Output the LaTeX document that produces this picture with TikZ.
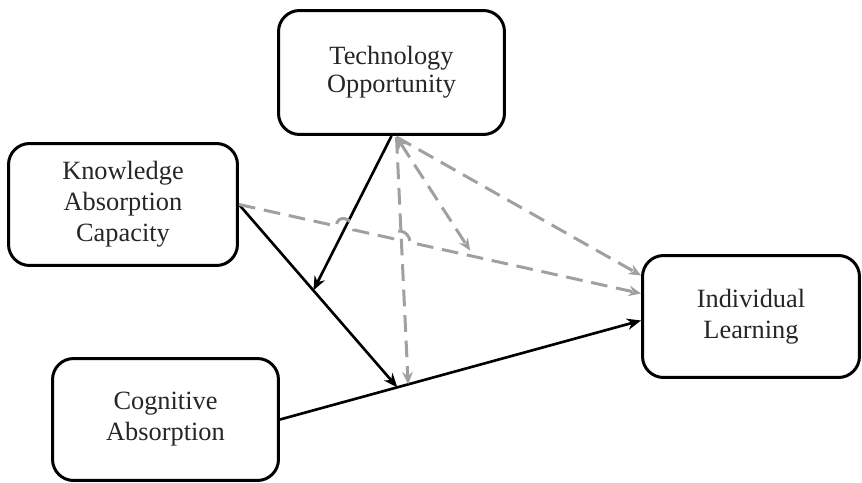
\documentclass[tikz,border=0pt]{standalone}
\usepackage{fontspec}
\setmainfont{Liberation Serif}
\usetikzlibrary{calc,arrows.meta,positioning,intersections}
\definecolor{modGray}{RGB}{160,160,160}

\begin{document}
\begin{tikzpicture}[x=0.02cm,y=-0.02cm,
  box/.style={rounded corners=12pt,draw=black,line width=1.7pt,fill=white,align=center,inner sep=0pt,
    minimum height=2.44cm,text=black!85,font=\fontsize{15}{17.6}\selectfont},
  direct/.style={line width=1.5pt,-{Stealth[length=8pt,width=6.5pt]}},
  moder/.style={draw=modGray,line width=1.7pt,dash pattern=on 9.5pt off 5pt,-{Stealth[length=7pt,width=6pt]}}]
\useasboundingbox (0,0) rectangle (862,483);

\node[box,minimum width=4.52cm,minimum height=2.48cm,font=\fontsize{15}{15.8}\selectfont] (techopp) at (391.5,72.5) {Technology\\Opportunity};
\node[box,minimum width=4.58cm] (kac) at (123,204.5) {Knowledge\\Absorption\\Capacity};
\node[box,minimum width=4.52cm] (cogabs) at (165.5,419.5) {Cognitive\\Absorption};
\node[box,minimum width=4.34cm] (indlearn) at (751,316.5) {Individual\\Learning};

% anchor points on the paths
\coordinate (ilLow) at ($(indlearn.west)+(0,4)$);
\coordinate (ilMid) at ($(indlearn.west)+(0,-23)$);
\coordinate (ilTop) at ($(indlearn.west)+(0,-41)$);
\coordinate (toDash) at ($(techopp.south)+(5,1)$);
\coordinate (onCA) at ($(cogabs.east)!0.325!(ilLow)$);
\coordinate (onCAdash) at ($(cogabs.east)!0.355!(ilLow)$);
\coordinate (onKAC) at ($(kac.east)!0.47!(onCA)$);
\coordinate (onKIL) at ($(kac.east)!0.575!(ilMid)$);

% direct effects
\draw[direct] (cogabs.east) -- (ilLow);
\draw[direct] (kac.east) -- (onCA);
\draw[direct,name path=tomod] (techopp.south) -- (onKAC);

% moderating effects
\draw[moder,name path=tovert] (toDash) -- (onCAdash);
\draw[moder,{Stealth[length=7pt,width=6pt]}-{Stealth[length=7pt,width=6pt]}] (toDash) -- ($(onKIL)+(0,-5)$);
\draw[moder] (toDash) -- (ilTop);

\path[name path=kil] (kac.east) -- (ilMid);
\path[name intersections={of=kil and tomod,by=hopA}];
\path[name intersections={of=kil and tovert,by=hopB}];
\draw[moder] (kac.east) -- ($(hopA)!5pt!(kac.east)$)
  .. controls +(0pt,7pt) and +(0pt,7pt) .. ($(hopA)!5pt!(ilMid)$)
  -- ($(hopB)!5pt!(kac.east)$)
  .. controls +(0pt,7pt) and +(0pt,7pt) .. ($(hopB)!5pt!(ilMid)$)
  -- (ilMid);
\end{tikzpicture}
\end{document}
